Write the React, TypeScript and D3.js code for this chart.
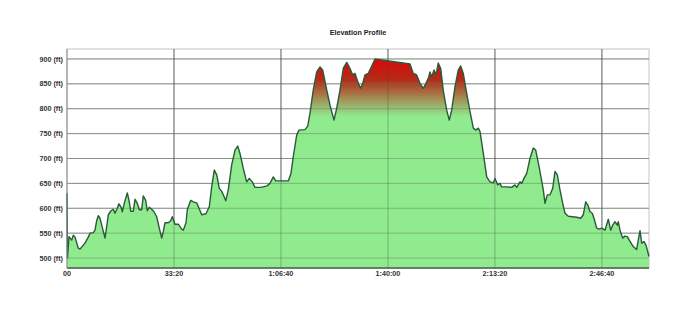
import React from "react";
import * as d3 from "d3";

// Time in seconds since start
const times: number[] = [
  0, 9, 37, 88, 118, 150, 211, 243, 336, 398, 430, 492, 523, 555, 585, 617, 649, 710, 742, 772,
  823, 866, 897, 940, 972, 1009, 1034, 1071, 1127, 1159, 1191, 1239, 1271, 1314, 1352, 1396, 1426, 1471, 1501, 1539,
  1583, 1626, 1677, 1725, 1770, 1800, 1832, 1894, 1939, 1968, 2019, 2081, 2144, 2174, 2225, 2249, 2312, 2361, 2425, 2468,
  2518, 2598, 2660, 2705, 2754, 2799, 2847, 2892, 2922, 2967, 3015, 3079, 3141, 3191, 3234, 3296, 3359, 3408, 3464, 3514,
  3608, 3664, 3739, 3795, 3857, 3902, 3982, 4137, 4187, 4230, 4294, 4337, 4449, 4500, 4543, 4604, 4668, 4730, 4780, 4855,
  4917, 4991, 5042, 5104, 5165, 5229, 5290, 5341, 5384, 5446, 5490, 5528, 5571, 5633, 5677, 5758, 6412, 6474, 6537, 6599,
  6661, 6711, 6754, 6786, 6818, 6861, 6898, 6941, 6986, 7034, 7098, 7146, 7191, 7253, 7315, 7360, 7408, 7472, 7534, 7596,
  7641, 7689, 7721, 7782, 7846, 7908, 7969, 8001, 8051, 8094, 8126, 8220, 8313, 8375, 8407, 8469, 8500, 8543, 8594, 8655,
  8717, 8762, 8824, 8904, 8936, 8979, 9029, 9080, 9123, 9166, 9216, 9267, 9310, 9372, 9529, 9603, 9652, 9697, 9734, 9777,
  9820, 9857, 9902, 9951, 9996, 10057, 10119, 10164, 10201, 10244, 10287, 10306, 10338, 10388, 10431, 10474, 10511, 10586, 10649, 10679,
  10712, 10743, 10786, 10824, 10880,
];

// Elevation in feet
const elevations: number[] = [
  630, 500, 543, 536, 546, 542, 520, 518, 530, 542, 550, 551, 556, 575, 585, 580, 566, 540, 563, 587,
  595, 598, 590, 600, 609, 603, 593, 610, 631, 616, 594, 594, 618, 610, 597, 597, 625, 616, 595, 602,
  598, 593, 583, 560, 540, 553, 571, 571, 575, 583, 568, 568, 558, 556, 571, 597, 616, 613, 611, 600,
  587, 589, 603, 643, 677, 667, 640, 634, 627, 615, 637, 687, 717, 725, 710, 680, 653, 660, 653, 642,
  642, 643, 645, 650, 663, 655, 655, 655, 670, 704, 747, 757, 758, 765, 791, 838, 874, 884, 878, 838,
  807, 777, 801, 838, 881, 893, 881, 868, 871, 851, 841, 851, 868, 871, 881, 900, 890, 871, 868, 851,
  841, 851, 861, 874, 864, 878, 868, 892, 881, 837, 797, 777, 797, 844, 878, 886, 871, 831, 794, 761,
  757, 761, 754, 711, 663, 653, 651, 660, 647, 650, 643, 643, 642, 647, 642, 653, 650, 660, 670, 700,
  721, 717, 684, 637, 610, 627, 627, 640, 674, 667, 637, 610, 590, 584, 582, 580, 587, 613, 607, 593,
  590, 578, 560, 558, 560, 556, 578, 556, 566, 573, 566, 573, 556, 540, 544, 543, 536, 523, 517, 536,
  555, 530, 533, 526, 503,
];

const yTicks: number[] = [500, 550, 600, 650, 700, 750, 800, 850, 900];
const xTicks: number[] = [0, 2000, 4000, 6000, 8000, 10000];
const xTickLabels: string[] = ["00", "33:20", "1:06:40", "1:40:00", "2:13:20", "2:46:40"];
const title = "Elevation Profile";

export default function App() {
  const W = 698, H = 328;
  const left = 67, right = 649, top = 49, bottom = 268;
  const x = d3.scaleLinear().domain([0, times[times.length - 1]]).range([left, right]);
  const y = d3.scaleLinear().domain([480, 920]).range([bottom, top]);
  const data = times.map((t, i) => ({ t, e: elevations[i] }));
  const area = d3.area<{ t: number; e: number }>().x(d => x(d.t)).y0(bottom).y1(d => y(d.e));
  const line = d3.line<{ t: number; e: number }>().x(d => x(d.t)).y(d => y(d.e));
  const font = "'Liberation Sans', Arial, sans-serif";
  return (
    <svg width={W} height={H} style={{ position: "absolute", left: 0, top: 0, background: "#fff" }}>
      <defs>
        <linearGradient id="elevGrad" gradientUnits="userSpaceOnUse" x1={0} x2={0} y1={y(898)} y2={y(785)}>
          <stop offset="0" stopColor="#d80a0a" />
          <stop offset="0.35" stopColor="#b52a18" />
          <stop offset="1" stopColor="#90ea8e" />
        </linearGradient>
      </defs>
      <text x={(left + right) / 2} y={35} textAnchor="middle" fontFamily={font} fontWeight="bold" fontSize={7.2} fill="#222">
        {title}
      </text>
      {/* frame */}
      <rect x={left} y={top} width={right - left} height={bottom - top} fill="none" stroke="#c4c4c4" strokeWidth={1} />
      {/* horizontal grid */}
      {yTicks.map(v => (
        <line key={"h" + v} x1={left} x2={right} y1={y(v)} y2={y(v)} stroke="#a8a8a8" strokeWidth={1} />
      ))}
      {/* vertical grid */}
      {xTicks.slice(1).map(v => (
        <line key={"v" + v} x1={x(v)} x2={x(v)} y1={top} y2={bottom} stroke="#555" strokeWidth={0.7} />
      ))}
      <path d={area(data) || ""} fill="url(#elevGrad)" />
      {/* grid over fill (faint) */}
      {yTicks.map(v => (
        <line key={"h2" + v} x1={left} x2={right} y1={y(v)} y2={y(v)} stroke="#5a7a5a" strokeOpacity={0.45} strokeWidth={1} />
      ))}
      {xTicks.slice(1).map(v => (
        <line key={"v2" + v} x1={x(v)} x2={x(v)} y1={top} y2={bottom} stroke="#3a4a3a" strokeOpacity={0.5} strokeWidth={0.7} />
      ))}
      <path d={line(data) || ""} fill="none" stroke="#2a5a3a" strokeWidth={1.4} strokeLinejoin="round" />
      <line x1={left} x2={right} y1={bottom} y2={bottom} stroke="#4a5a4a" strokeWidth={1.5} />
      <line x1={left} x2={left} y1={top} y2={bottom} stroke="#888" strokeWidth={1} />
      {yTicks.map(v => (
        <text key={"yl" + v} x={63} y={y(v) + 2.6} textAnchor="end" fontFamily={font} fontWeight="bold" fontSize={7.2} fill="#333">
          {v} (ft)
        </text>
      ))}
      {xTicks.map((v, i) => (
        <text key={"xl" + v} x={x(v)} y={276} textAnchor="middle" fontFamily={font} fontWeight="bold" fontSize={7.2} fill="#333">
          {xTickLabels[i]}
        </text>
      ))}
    </svg>
  );
}
